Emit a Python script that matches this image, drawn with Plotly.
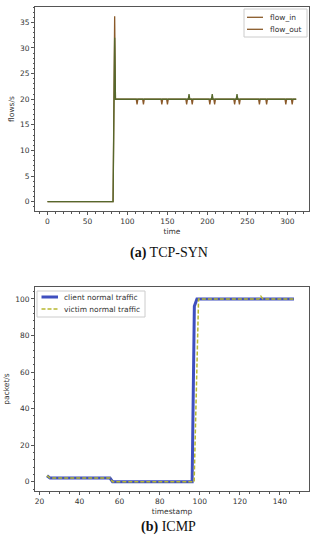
import plotly.graph_objects as go

# ---- (a) TCP-SYN data ----
flow_in_t = [0, 82, 84, 85, 111, 112, 113, 119, 120, 121, 142, 143, 144, 149, 150, 151,
             173, 174, 175, 180, 181, 182, 202, 203, 204, 208, 209, 210, 233, 234, 235,
             239, 240, 241, 264, 265, 266, 273, 274, 275, 297, 298, 299, 305, 306, 307, 311]
flow_in_v = [0, 0, 36.2, 20, 20, 19, 20, 20, 19, 20, 20, 19, 20, 20, 19, 20,
             20, 19, 20, 20, 19, 20, 20, 19, 20, 20, 19, 20, 20, 19, 20,
             20, 19, 20, 20, 19, 20, 20, 19, 20, 20, 19, 20, 20, 19, 20, 20]
flow_out_t = [0, 82, 84, 85, 176, 177, 178, 205, 206, 207, 236, 237, 238, 311]
flow_out_v = [0, 0, 32, 20, 20, 21, 20, 20, 21, 20, 20, 21, 20, 20]

# ---- (b) ICMP data ----
client_t = [23.8, 25.3, 55.2, 56.5, 96.2, 97.3, 98.6, 147]
client_v = [3.3, 2, 2, 0, 0, 96, 100, 100]
victim_t = [23.8, 25.3, 55.2, 56.5, 97.2, 99.4, 129.5, 130.5, 131.5, 147]
victim_v = [3.3, 2, 2, 0, 0, 100, 100, 101.4, 100, 100]

COL_IN, COL_OUT = "#8a5a2a", "#56682c"
COL_CLIENT, COL_VICTIM = "#3f4fbf", "#b8b830"

W, H = 320, 550
def px(x): return x / W
def py(y): return 1 - y / H

fig = go.Figure()
fig.add_trace(go.Scatter(x=flow_in_t, y=flow_in_v, mode="lines", name="flow_in",
                         line=dict(color=COL_IN, width=1.3), xaxis="x", yaxis="y"))
fig.add_trace(go.Scatter(x=flow_out_t, y=flow_out_v, mode="lines", name="flow_out",
                         line=dict(color=COL_OUT, width=1.3), xaxis="x", yaxis="y"))
fig.add_trace(go.Scatter(x=client_t, y=client_v, mode="lines", name="client normal traffic",
                         line=dict(color=COL_CLIENT, width=3), xaxis="x2", yaxis="y2"))
fig.add_trace(go.Scatter(x=victim_t, y=victim_v, mode="lines", name="victim normal traffic",
                         line=dict(color=COL_VICTIM, width=1.5, dash="4px,2px"), xaxis="x2", yaxis="y2"))

tickfont = dict(family="DejaVu Sans", size=7.5, color="#333")
titlefont = dict(family="DejaVu Sans", size=7.5, color="#333")
common = dict(showline=True, mirror=True, linecolor="#555", linewidth=1, showgrid=False,
              zeroline=False, ticks="outside", ticklen=3, tickcolor="#555", tickfont=tickfont)

# ---- custom compact legends (matplotlib style) ----
shapes, annots = [], []
def legend_box(x0, y0, x1, y1, items):
    shapes.append(dict(type="rect", xref="paper", yref="paper", x0=px(x0), x1=px(x1),
                       y0=py(y1), y1=py(y0), line=dict(color="#cccccc", width=1),
                       fillcolor="rgba(255,255,255,0.85)", layer="above"))
    for (lx0, lx1, ly, tx, label, color, width, dash) in items:
        shapes.append(dict(type="line", xref="paper", yref="paper", x0=px(lx0), x1=px(lx1),
                           y0=py(ly), y1=py(ly), line=dict(color=color, width=width, dash=dash),
                           layer="above"))
        annots.append(dict(text=label, x=px(tx), y=py(ly), xref="paper", yref="paper",
                           xanchor="left", yanchor="middle", showarrow=False,
                           font=dict(family="DejaVu Sans", size=7.5, color="#333")))

legend_box(244, 9, 307, 37, [
    (247, 263, 17.3, 268, "flow_in", COL_IN, 1.3, "solid"),
    (247, 263, 29.3, 268, "flow_out", COL_IN, 1.3, "solid"),
])
legend_box(37, 291, 145, 317, [
    (41.5, 58, 297, 62, "client normal traffic", COL_CLIENT, 3, "solid"),
    (41.5, 58, 309, 62, "victim normal traffic", COL_VICTIM, 1.5, "4px,2px"),
])

annots += [
    dict(text="<b>(a)</b> TCP-SYN", x=px(169), y=py(253), xref="paper", yref="paper",
         showarrow=False, font=dict(family="Liberation Serif", size=14, color="#111")),
    dict(text="<b>(b)</b> ICMP", x=px(168), y=py(537), xref="paper", yref="paper",
         showarrow=False, font=dict(family="Liberation Serif", size=14, color="#111")),
]

fig.update_layout(
    width=W, height=H, margin=dict(l=0, r=0, t=0, b=0),
    paper_bgcolor="white", plot_bgcolor="white", showlegend=False,
    xaxis=dict(domain=[px(35), px(309)], anchor="y", range=[-15.6, 327], dtick=50, tick0=0,
               title=dict(text="time", font=titlefont, standoff=3),
               minor=dict(ticks="outside", ticklen=1.5, dtick=10, tickcolor="#555"), **common),
    yaxis=dict(domain=[py(211), py(7)], anchor="x", range=[-1.81, 38.0], dtick=5, tick0=0,
               title=dict(text="flows/s", font=titlefont, standoff=4),
               minor=dict(ticks="outside", ticklen=1.5, dtick=1, tickcolor="#555"), **common),
    xaxis2=dict(domain=[px(35), px(309)], anchor="y2", range=[17.8, 154.5], dtick=20, tick0=0,
                title=dict(text="timestamp", font=titlefont, standoff=3),
                minor=dict(ticks="outside", ticklen=1.5, dtick=5, tickcolor="#555"), **common),
    yaxis2=dict(domain=[py(491), py(287)], anchor="x2", range=[-5.07, 106.5], dtick=20, tick0=0,
                title=dict(text="packet/s", font=titlefont, standoff=4),
                minor=dict(ticks="outside", ticklen=1.5, dtick=4, tickcolor="#555"), **common),
    shapes=shapes, annotations=annots,
)

fig.write_html("out.html", config={"displayModeBar": False},
               post_script="document.body.style.margin='0';document.body.style.overflow='hidden';")
